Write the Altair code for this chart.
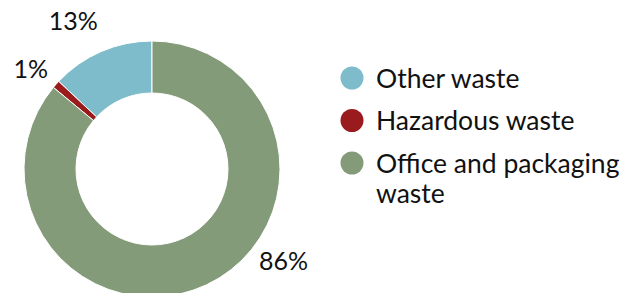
import altair as alt
import pandas as pd

categories = ["Other waste", "Hazardous waste", "Office and packaging waste"]
legend_text = ["Other waste", "Hazardous waste", "Office and packaging\nwaste"]
values = [13, 1, 86]
stack_rank = [3, 2, 1]
labels = ["13%", "1%", "86%"]
colors = ["#7fbccb", "#9a1b1e", "#849b7a"]

df = pd.DataFrame({"cat": categories, "val": values, "rank": stack_rank,
                   "label": labels, "legend": legend_text})

cscale = alt.Scale(domain=categories, range=colors)
tscale = alt.Scale(domain=[0, 100])
CX, CY = 144, 161

arcs = alt.Chart(df).mark_arc(
    outerRadius=128, innerRadius=76, stroke="white", strokeWidth=1
).encode(
    theta=alt.Theta("val:Q", stack=True, scale=tscale),
    order=alt.Order("rank:Q", sort="ascending"),
    color=alt.Color("cat:N", scale=cscale, legend=None),
    x=alt.value(CX), y=alt.value(CY),
)

lab_base = alt.Chart(df).transform_window(
    cum="sum(val)", sort=[alt.SortField("rank", order="ascending")]
).transform_calculate(mid="datum.cum - datum.val / 2")

def lab(cat, dx, dy):
    return lab_base.transform_filter(alt.datum.cat == cat).mark_text(
        radius=163, font="Lato", fontSize=25, color="#111111", dx=dx, dy=dy
    ).encode(
        theta=alt.Theta("mid:Q", stack=None, scale=tscale),
        text="label:N", x=alt.value(CX), y=alt.value(CY),
    )

yscale = alt.Scale(domain=categories, range=[70, 155], padding=0)
leg_dots = alt.Chart(df).mark_point(
    shape="circle", filled=True, size=529, opacity=1, strokeWidth=0
).encode(
    y=alt.Y("cat:N", scale=yscale, axis=None),
    x=alt.value(344),
    color=alt.Color("cat:N", scale=cscale, legend=None),
)
leg_text = alt.Chart(df).mark_text(
    font="Lato", fontSize=26.5, color="#111111", align="left",
    baseline="alphabetic", dy=9.5, lineBreak="\n", lineHeight=30,
).encode(
    y=alt.Y("cat:N", scale=yscale, axis=None),
    x=alt.value(368),
    text="legend:N",
)

chart = alt.layer(
    arcs,
    lab("Other waste", -14, 3),
    lab("Hazardous waste", 1, 9),
    lab("Office and packaging waste", 62, -54),
    leg_dots,
    leg_text,
).properties(
    width=628, height=285, padding=0, autosize=alt.AutoSizeParams(type="none")
).configure_view(stroke=None)

chart.save("out.html", embed_options={"renderer": "svg", "actions": False})
